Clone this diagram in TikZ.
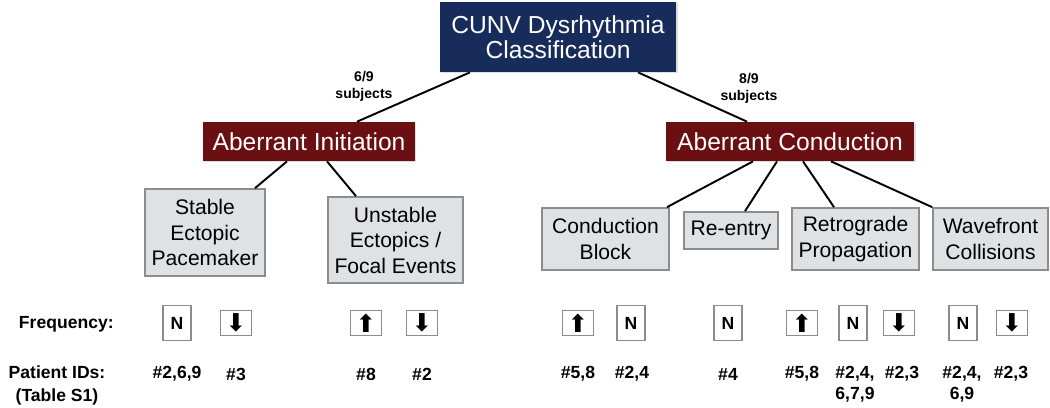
\documentclass[tikz,border=0pt]{standalone}
\usepackage{fontspec}
\setmainfont{Liberation Sans}
\newfontfamily\arrowfont{DejaVu Sans}
\usetikzlibrary{calc,shadows}
\definecolor{navy}{HTML}{182C5C}
\definecolor{maroon}{HTML}{6A0F12}
\definecolor{boxfill}{HTML}{DFE2E5}
\definecolor{boxline}{HTML}{8C8C8C}
\begin{document}
\begin{tikzpicture}[x=0.02cm,y=-0.02cm,
        head/.style={fill=navy,text=white,align=center,minimum width=4.74cm,minimum height=1.4cm,
            drop shadow={opacity=0.25,shadow xshift=0.8pt,shadow yshift=-0.8pt},font=\fontsize{14}{14.5}\selectfont},
        group/.style={fill=maroon,text=white,minimum height=0.78cm,
            drop shadow={opacity=0.25,shadow xshift=0.8pt,shadow yshift=-0.8pt},font=\fontsize{14}{16}\selectfont},
        kind/.style={draw=boxline,line width=1pt,fill=boxfill,align=center,font=\fontsize{12}{14.5}\selectfont},
        nbox/.style={draw=boxline,line width=1.1pt,minimum width=0.56cm,minimum height=0.7cm,inner sep=0pt,
            font=\bfseries\fontsize{10}{12}\selectfont},
        abox/.style={draw=boxline,line width=1.1pt,minimum width=0.62cm,minimum height=0.5cm,inner sep=0pt,
            font=\arrowfont\fontsize{14}{14}\selectfont},
        lbl/.style={inner sep=0pt,align=center,font=\bfseries\fontsize{10}{13}\selectfont},
        ids/.style={inner sep=0pt,align=center,font=\bfseries\fontsize{10}{12}\selectfont},
        frac/.style={inner sep=0pt,align=center,font=\bfseries\fontsize{8}{9.6}\selectfont},
        link/.style={line width=1.1pt}]

    \useasboundingbox (0,0) rectangle (1050,407);

    \node[head] (title) at (558,37) {CUNV Dysrhythmia\\Classification};

    \node[group,minimum width=4.24cm] (init) at (309,141.5) {Aberrant Initiation};
    \node[group,minimum width=4.98cm] (cond) at (790,141.5) {Aberrant Conduction};
        \node[frac] (initn) at (364,86) {6/9\\subjects};
        \node[frac] (condn) at (749,88) {8/9\\subjects};

    \draw[link] ($(title.south)+(-88,0)$) to ($(init.north)+(48,0)$);
    \draw[link] ($(title.south)+(80,0)$) to ($(cond.north)+(-43,0)$);

    \node[kind,minimum width=2.4cm,minimum height=1.74cm] (stable) at (205,232.5) {Stable\\Ectopic\\Pacemaker};
    \node[kind,minimum width=2.7cm,minimum height=1.72cm] (unstable) at (395.5,240) {Unstable\\Ectopics /\\Focal Events};
    \node[kind,minimum width=2.54cm,minimum height=1.24cm] (block) at (605.5,239) {Conduction\\Block};
    \node[kind,minimum width=1.88cm,minimum height=0.74cm] (reentry) at (731,230.5) {Re-entry};
    \node[kind,minimum width=2.54cm,minimum height=1.24cm] (retro) at (855.5,239) {Retrograde\\Propagation};
    \node[kind,minimum width=2.3cm,minimum height=1.24cm] (wave) at (990.5,239) {Wavefront\\Collisions};

    \draw[link] ($(init.south)+(-22,0)$) to ($(stable.north)+(50,0)$);
    \draw[link] ($(init.south)+(18,0)$) to ($(unstable.north)+(-39.5,0)$);
    \draw[link] ($(cond.south)+(-37,0)$) to ($(block.north)+(61.5,0)$);
    \draw[link] ($(cond.south)+(-13,0)$) to ($(reentry.north)+(14,0)$);
    \draw[link] ($(cond.south)+(13,0)$) to ($(retro.north)+(-21.5,0)$);
    \draw[link] ($(cond.south)+(41,0)$) to (wave.north west);

    \node[lbl,anchor=east] (freq) at (114,324) {Frequency:};
    \node[lbl] (pid) at (57,385.5) {Patient IDs:\\(Table S1)};

    \node[nbox] (f1) at (177,323) {N};
    \node[abox] (f2) at (236,323) {⬇};
    \node[abox] (f3) at (366,323) {⬆};
    \node[abox] (f4) at (422,323) {⬇};
    \node[abox] (f5) at (578,323) {⬆};
    \node[nbox] (f6) at (631,323) {N};
    \node[nbox] (f7) at (728,323) {N};
    \node[abox] (f8) at (802,323) {⬆};
    \node[nbox] (f9) at (853,323) {N};
    \node[abox] (f10) at (899,323) {⬇};
    \node[nbox] (f11) at (963,323) {N};
    \node[abox] (f12) at (1012,323) {⬇};

    \node[ids] (p1) at (177,374) {\#2,6,9};
    \node[ids] (p2) at (236,374) {\#3};
    \node[ids] (p3) at (366,374) {\#8};
    \node[ids] (p4) at (422,374) {\#2};
    \node[ids] (p5) at (578,374) {\#5,8};
    \node[ids] (p6) at (632,374) {\#2,4};
    \node[ids] (p7) at (728,374) {\#4};
    \node[ids] (p8) at (802,374) {\#5,8};
    \node[ids] (p9) at (855,384.5) {\#2,4,\\6,7,9};
    \node[ids] (p10) at (902,374) {\#2,3};
    \node[ids] (p11) at (962,384.5) {\#2,4,\\6,9};
    \node[ids] (p12) at (1011,374) {\#2,3};

\end{tikzpicture}
\end{document}
